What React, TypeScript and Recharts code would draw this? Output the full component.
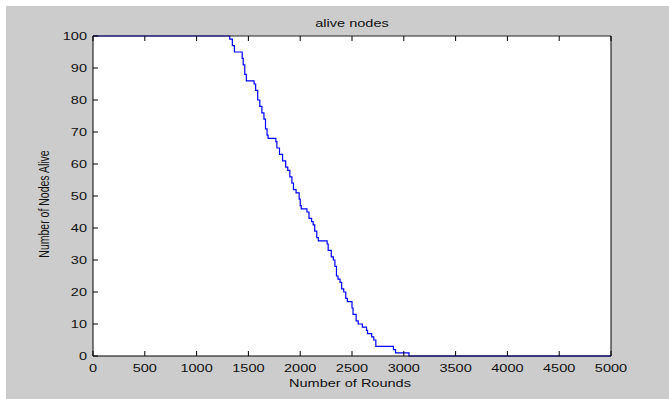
import React from "react";
import { LineChart, Line, XAxis, YAxis, CartesianGrid } from "recharts";

const rounds = [
  0, 1320, 1345, 1365, 1440, 1450, 1465, 1480, 1555, 1570, 1590, 1610, 1630, 1650, 1665, 1680, 1690,
  1765, 1775, 1800, 1830, 1860, 1880, 1900, 1920, 1935, 1960, 1990, 2000, 2010, 2065, 2085, 2110,
  2125, 2140, 2160, 2175, 2260, 2270, 2300, 2320, 2335, 2350, 2365, 2385, 2400, 2420, 2440, 2455,
  2500, 2510, 2540, 2560, 2600, 2640, 2650, 2690, 2710, 2730, 2900, 2920, 3050, 5000,
];
const nodesAlive = [
  100, 99, 97, 95, 93, 91, 88, 86, 85, 83, 80, 78, 76, 74, 71, 69, 68,
  67, 65, 63, 61, 59, 58, 56, 54, 52, 51, 49, 47, 46, 45, 43, 42,
  41, 39, 37, 36, 35, 33, 31, 30, 28, 25, 24, 23, 21, 20, 18, 17,
  15, 13, 11, 10, 9, 8, 7, 6, 5, 3, 2, 1, 0, 0,
];
const xTicks = [0, 500, 1000, 1500, 2000, 2500, 3000, 3500, 4000, 4500, 5000];
const yTicks = [0, 10, 20, 30, 40, 50, 60, 70, 80, 90, 100];
const titleText = "alive nodes";
const xLabelText = "Number of Rounds";
const yLabelText = "Number of Nodes Alive";

const data = rounds.map((r, i) => ({ rounds: r, alive: nodesAlive[i] }));

const FONT = "'Liberation Sans', Arial, Helvetica, sans-serif";
const STRETCH = 1.32;

const XTick = (p: any) => (
  <text
    x={0}
    y={0}
    transform={`translate(${p.x},${p.y}) scale(${STRETCH},1)`}
    textAnchor="middle"
    dy="0.71em"
    fontSize={11}
    fontFamily={FONT}
    fill="#111"
  >
    {p.payload.value}
  </text>
);

const YTick = (p: any) => (
  <text
    x={0}
    y={0}
    transform={`translate(${p.x},${p.y}) scale(${STRETCH},1)`}
    textAnchor="end"
    dy="0.355em"
    fontSize={11}
    fontFamily={FONT}
    fill="#111"
  >
    {p.payload.value}
  </text>
);

const NoTick = () => <g />;

export default function App() {
  return (
    <div style={{ position: "absolute", left: 0, top: 0, width: 669, height: 399, background: "#fff" }}>
      <div
        style={{ position: "absolute", left: 6, top: 6, width: 663, height: 393, background: "#cccccc" }}
      />
      <div style={{ position: "absolute", left: 0, top: 0 }}>
        <LineChart
          width={669}
          height={399}
          data={data}
          margin={{ top: 35, right: 57, bottom: 42, left: 92 }}
        >
          <CartesianGrid horizontal={false} vertical={false} fill="#ffffff" />
          <XAxis
            xAxisId="bottom"
            dataKey="rounds"
            type="number"
            domain={[0, 5000]}
            ticks={xTicks}
            height={1}
            tickSize={-5}
            tickMargin={13}
            stroke="#000"
            tickLine={{ stroke: "#000" }}
            axisLine={{ stroke: "#000" }}
            tick={XTick}
            interval={0}
          />
          <XAxis
            xAxisId="top"
            orientation="top"
            dataKey="rounds"
            type="number"
            domain={[0, 5000]}
            ticks={xTicks}
            height={1}
            tickSize={-5}
            stroke="#000"
            tickLine={{ stroke: "#000" }}
            axisLine={{ stroke: "#222" }}
            tick={NoTick}
            interval={0}
          />
          <YAxis
            yAxisId="left"
            type="number"
            domain={[0, 100]}
            ticks={yTicks}
            width={1}
            tickSize={-5}
            tickMargin={11}
            stroke="#000"
            tickLine={{ stroke: "#000" }}
            axisLine={{ stroke: "#000" }}
            tick={YTick}
            interval={0}
          />
          <YAxis
            yAxisId="right"
            orientation="right"
            type="number"
            domain={[0, 100]}
            ticks={yTicks}
            width={1}
            tickSize={-5}
            stroke="#000"
            tickLine={{ stroke: "#000" }}
            axisLine={{ stroke: "#000" }}
            tick={NoTick}
            interval={0}
          />
          <Line
            xAxisId="bottom"
            yAxisId="left"
            type="stepAfter"
            dataKey="alive"
            stroke="#0000ff"
            strokeWidth={1.2}
            dot={false}
            activeDot={false}
            isAnimationActive={false}
          />
        </LineChart>
      </div>
      <div
        style={{
          position: "absolute",
          left: 352,
          top: 23,
          transform: `translate(-50%, -50%) scale(${STRETCH}, 1)`,
          fontFamily: FONT,
          fontSize: 11,
          lineHeight: 1,
          whiteSpace: "nowrap",
          color: "#111",
        }}
      >
        {titleText}
      </div>
      <div
        style={{
          position: "absolute",
          left: 350,
          top: 383,
          transform: `translate(-50%, -50%) scale(${STRETCH}, 1)`,
          fontFamily: FONT,
          fontSize: 11,
          lineHeight: 1,
          whiteSpace: "nowrap",
          color: "#111",
        }}
      >
        {xLabelText}
      </div>
      <div
        style={{
          position: "absolute",
          left: 44,
          top: 204,
          transform: `translate(-50%, -50%) rotate(-90deg) scale(1, ${STRETCH})`,
          fontFamily: FONT,
          fontSize: 10.5,
          lineHeight: 1,
          whiteSpace: "nowrap",
          color: "#111",
        }}
      >
        {yLabelText}
      </div>
    </div>
  );
}
